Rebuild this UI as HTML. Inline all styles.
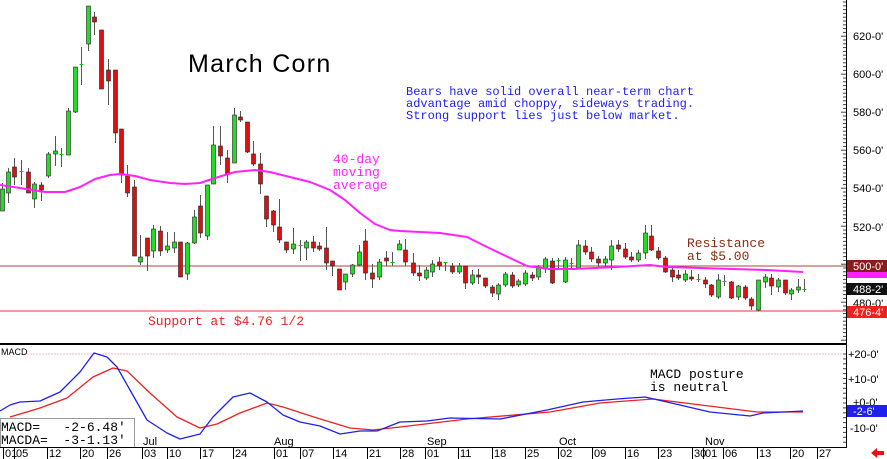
<!DOCTYPE html>
<html><head><meta charset="utf-8"><style>
html,body{margin:0;padding:0;background:#fff;}
svg{display:block;font-family:"Liberation Mono",monospace;}
</style></head><body>
<svg id="s" width="887" height="459" viewBox="0 0 887 459" xmlns="http://www.w3.org/2000/svg">
<rect width="887" height="459" fill="#fff"/>
<line x1="0" y1="266" x2="846" y2="266" stroke="#b04040" stroke-width="1"/>
<line x1="0" y1="311" x2="846" y2="311" stroke="#e83030" stroke-width="1"/>
<g id="c"></g>
<polyline fill="none" stroke="#ff22ff" stroke-width="2" stroke-linejoin="round" points="0,185 20,188 45,192 65,192 80,187 95,179 110,175 120,174 135,176 150,180 170,183 185,184 200,183 215,178 235,172 255,170 270,172 290,177 310,182 330,190 345,200 360,213 375,224 390,230 400,231 420,232 440,233 467,237 487,247 510,258 527,266 550,269 573,269 617,267 650,265 667,267 700,268 733,269 767,270 803,272"/>
<line x1="0" y1="344" x2="846" y2="344" stroke="#000" stroke-width="2"/>
<line x1="24" y1="354" x2="846" y2="354" stroke="#f4b8b8" stroke-width="1" stroke-dasharray="2,1"/>
<text x="1" y="355" font-size="9" font-family="Liberation Sans,sans-serif">MACD</text>
<polyline fill="none" stroke="#ee2020" stroke-width="1.3" stroke-linejoin="round" points="10,417 40,408 67,398 93,377 113,368 127,371 150,393 177,417 200,428 217,424 240,413 267,403 283,407 317,418 350,428 373,430 400,427 467,419 550,412 600,403 653,399 717,407 757,412 803,412"/>
<polyline fill="none" stroke="#2020ee" stroke-width="1.3" stroke-linejoin="round" points="0,411 10,405 20,402 40,401 60,392 80,372 94,353 107,357 117,367 130,390 147,420 167,433 180,439 200,434 213,417 233,397 250,393 267,402 283,415 300,422 320,426 340,434 360,431 377,431 400,422 427,421 450,418 500,419 547,410 583,402 617,399 645,397 667,402 710,412 750,416 763,413 803,411"/>
<rect x="0.5" y="418.5" width="134" height="29" fill="#fff" stroke="#999"/>
<text x="1" y="431" font-size="13" fill="#000" xml:space="preserve">MACD=   -2-6.48'</text>
<text x="1" y="444" font-size="13" fill="#000" xml:space="preserve">MACDA=  -3-1.13'</text>
<line x1="846.5" y1="0" x2="846.5" y2="448" stroke="#000"/>
<line x1="0" y1="447.5" x2="847" y2="447.5" stroke="#000"/>
<g id="tk"></g>
<g font-size="11" fill="#000" font-family="Liberation Sans,sans-serif">
<text x="853" y="40">620-0'</text><text x="853" y="78">600-0'</text><text x="853" y="116">580-0'</text><text x="853" y="154">560-0'</text><text x="853" y="192">540-0'</text><text x="853" y="231">520-0'</text><text x="853" y="307">480-0'</text>
<text x="848" y="358">+20-0'</text><text x="848" y="383">+10-0'</text><text x="853" y="406">+0-0'</text><text x="850" y="432">-10-0'</text>
</g>
<rect x="847" y="272" width="40" height="6" fill="#ff22ff"/>
<rect x="847" y="260" width="40" height="12" fill="#8b1a1a"/><text x="853" y="270" font-size="11" fill="#fff" font-family="Liberation Sans,sans-serif">500-0'</text>
<rect x="847" y="283" width="40" height="12" fill="#111"/><text x="853" y="293" font-size="11" fill="#fff" font-family="Liberation Sans,sans-serif">488-2'</text>
<rect x="847" y="306" width="40" height="12" fill="#ee2020"/><text x="853" y="316" font-size="11" fill="#fff" font-family="Liberation Sans,sans-serif">476-4'</text>
<rect x="847" y="405" width="40" height="12" fill="#2020ee"/><text x="853" y="415" font-size="11" fill="#fff" font-family="Liberation Sans,sans-serif">-2-6'</text>
<polygon points="871,453 877,448 877,451 884,451 884,455 877,455 877,458" fill="#ee1010"/>
<text x="188" y="72" font-size="25" fill="#000" font-family="Liberation Sans,sans-serif" letter-spacing="1.3">March Corn</text>
<g font-size="12" fill="#2020ee"><text x="406" y="95">Bears have solid overall near-term chart</text><text x="406" y="107">advantage amid choppy, sideways trading.</text><text x="406" y="119">Strong support lies just below market.</text></g>
<g font-size="13" fill="#ff22ff"><text x="333" y="163">40-day</text><text x="333" y="176">moving</text><text x="333" y="189">average</text></g>
<g font-size="13" fill="#8b2a10"><text x="687" y="247">Resistance</text><text x="687" y="260">at $5.00</text></g>
<text x="148" y="325" font-size="13" fill="#ee2020">Support at $4.76 1/2</text>
<g font-size="13" fill="#000"><text x="650" y="378">MACD posture</text><text x="650" y="391">is neutral</text></g>
</svg>
<script>
var C=[[2,'G',189,211,183,211],[8,'G',172,193,168,203],[14,'R',167,177,158,185],[21,'D',171,171,160,185],[28,'R',172,193,168,193],[34,'G',184,199,182,208],[41,'R',185,190,182,201],[48,'G',154,176,152,178],[55,'G',151,154,136,166],[61,'D',154,154,148,167],[68,'G',111,155,108,155],[75,'G',67,112,67,113],[81,'D',64,64,47,85],[88,'G',6,44,6,51],[94,'R',17,22,12,35],[101,'R',30,89,30,89],[108,'R',70,81,59,105],[115,'R',70,133,70,143],[121,'R',129,175,129,183],[127,'R',176,193,165,197],[134,'R',187,256,180,256],[140,'G',257,262,235,265],[147,'R',238,256,238,271],[153,'G',229,251,225,258],[160,'R',231,251,226,256],[167,'G',246,250,232,253],[174,'G',242,248,232,253],[180,'R',242,277,242,277],[187,'G',243,274,242,280],[194,'G',217,243,210,244],[200,'R',206,233,195,238],[207,'G',185,236,185,240],[213,'G',145,184,126,184],[220,'R',146,156,126,165],[227,'R',158,174,150,183],[234,'G',115,163,108,163],[240,'R',117,120,111,122],[247,'R',122,152,122,153],[253,'R',154,164,141,166],[260,'R',164,184,153,194],[266,'R',196,219,196,227],[273,'R',211,225,210,232],[279,'R',227,240,199,243],[286,'R',242,250,242,253],[293,'G',244,249,228,254],[300,'D',245,245,240,261],[306,'G',242,248,240,260],[313,'R',242,248,236,252],[319,'R',246,249,242,251],[326,'R',248,263,227,270],[332,'R',261,266,261,276],[339,'R',269,290,269,290],[345,'G',274,282,274,290],[352,'G',265,274,264,277],[359,'G',252,265,245,266],[365,'R',241,273,229,280],[372,'R',273,279,264,288],[379,'G',262,277,259,280],[386,'R',258,261,251,266],[392,'D',262,262,252,266],[399,'G',244,250,240,250],[405,'R',250,262,239,266],[413,'R',263,273,253,276],[419,'R',273,276,265,281],[426,'G',270,278,267,280],[432,'G',264,272,260,277],[439,'R',262,266,257,270],[445,'D',262,262,262,271],[452,'R',266,272,263,274],[459,'G',266,272,263,274],[465,'R',266,283,266,289],[472,'G',275,283,270,285],[478,'R',275,277,269,284],[485,'R',278,286,278,288],[492,'R',287,293,285,297],[498,'G',285,294,283,300],[505,'G',274,285,272,287],[512,'R',275,286,272,288],[518,'G',281,285,279,287],[525,'G',273,284,270,286],[532,'R',275,278,272,281],[538,'G',268,277,265,280],[545,'G',259,269,257,273],[552,'R',261,283,258,284],[558,'D',260,260,258,268],[565,'G',260,282,257,283],[571,'D',263,263,258,269],[578,'G',245,268,240,269],[585,'R',246,252,240,255],[591,'R',252,259,247,262],[598,'R',259,263,256,267],[605,'G',259,263,256,268],[611,'G',246,260,240,270],[618,'R',245,249,240,252],[625,'R',249,257,243,259],[631,'R',257,260,252,262],[638,'G',253,260,250,262],[645,'G',233,253,225,259],[651,'R',236,250,225,251],[658,'R',251,258,247,260],[665,'R',258,272,256,273],[672,'R',270,277,268,282],[678,'R',275,278,270,280],[685,'G',274,280,270,282],[691,'R',277,279,270,281],[698,'D',279,279,274,282],[705,'R',280,284,277,288],[711,'R',285,295,284,297],[718,'G',280,297,274,299],[724,'D',281,281,275,286],[731,'R',282,298,281,299],[738,'G',286,297,285,300],[745,'R',287,298,285,300],[751,'R',299,306,297,310],[758,'G',280,310,280,311],[765,'G',277,282,274,288],[771,'R',278,286,274,295],[778,'G',280,287,278,292],[785,'R',280,293,280,295],[791,'G',290,294,288,300],[798,'G',287,290,279,293],[804,'D',289,289,279,292]];
var ns="http://www.w3.org/2000/svg",g=document.getElementById('c');
function el(t,a){var e=document.createElementNS(ns,t);for(var k in a)e.setAttribute(k,a[k]);return e;}
C.forEach(function(c){var x=c[0];
g.appendChild(el('line',{x1:x+0.5,x2:x+0.5,y1:c[4],y2:c[5],stroke:'#555'}));
if(c[1]=='D'){g.appendChild(el('line',{x1:x-1.5,x2:x+2.5,y1:c[2]+0.5,y2:c[2]+0.5,stroke:'#0c0'}));}
else{var h=Math.max(2,c[3]-c[2]);g.appendChild(el('rect',{x:x-1.5,y:c[2],width:4,height:h,fill:c[1]=='G'?'#22dd22':'#dd1010',stroke:'#222','stroke-width':0.6}));}
});
var tk=document.getElementById('tk');
for(var y=2;y<342;y+=3.8){var big=Math.abs(((y-36)/38)%1)<0.05;tk.appendChild(el('line',{x1:big?841:843,x2:846,y1:y.toFixed(1),y2:y.toFixed(1),stroke:'#444'}));}
for(var y=354;y<446;y+=4.9){tk.appendChild(el('line',{x1:843,x2:846,y1:y.toFixed(1),y2:y.toFixed(1),stroke:'#444'}));}
var L=[[3,'01'],[14,'05'],[47,'12'],[80,'20'],[107,'26'],[142,'03'],[167,'10'],[200,'17'],[233,'24'],[274,'01'],[300,'07'],[333,'14'],[367,'21'],[400,'28'],[425,'01'],[458,'11'],[492,'18'],[525,'25'],[558,'02'],[592,'09'],[625,'16'],[658,'23'],[692,'30'],[703,'01'],[723,'06'],[757,'13'],[790,'20'],[817,'27']];
L.forEach(function(l){tk.appendChild(el('line',{x1:l[0]+0.5,x2:l[0]+0.5,y1:448,y2:459,stroke:'#000'}));var t=el('text',{x:l[0]+2,y:457,'font-size':11,'font-family':'Liberation Sans,sans-serif'});t.textContent=l[1];tk.appendChild(t);});
[[143,'Jul'],[274,'Aug'],[427,'Sep'],[559,'Oct'],[705,'Nov']].forEach(function(m){var t=el('text',{x:m[0],y:445,'font-size':11,'font-family':'Liberation Sans,sans-serif'});t.textContent=m[1];tk.appendChild(t);});
</script>
</body></html>
